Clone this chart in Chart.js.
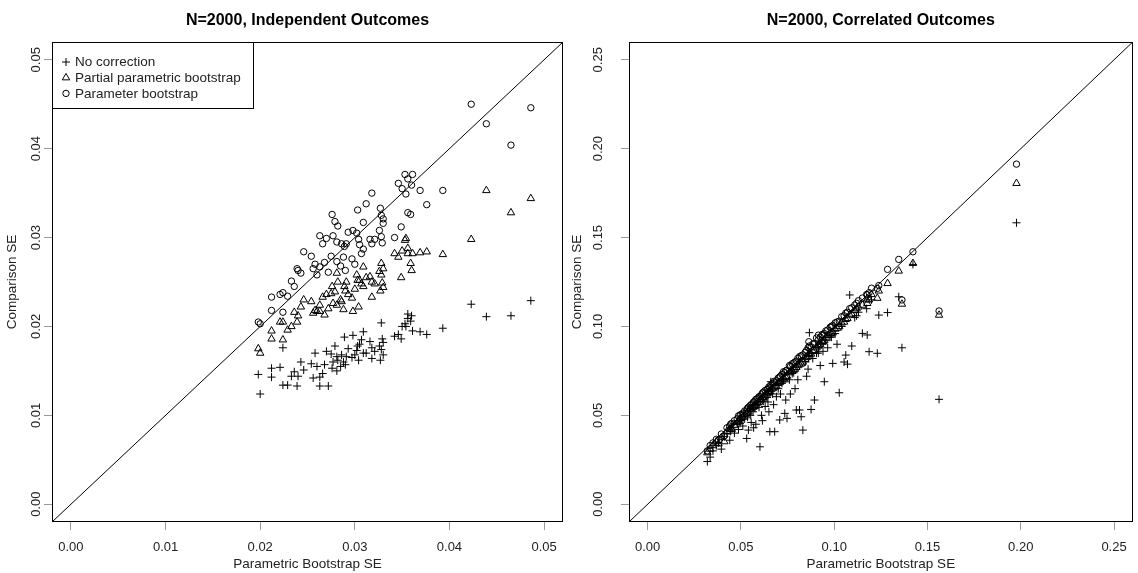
<!DOCTYPE html>
<html>
<head>
<meta charset="utf-8">
<script src="https://cdn.jsdelivr.net/npm/chart.js@4.4.1/dist/chart.umd.min.js"></script>
<style>
  html, body { margin: 0; padding: 0; background: #fff; }
  #wrap { position: relative; width: 1138px; height: 573px; overflow: hidden; background: #fff; }
  canvas { position: absolute; top: 0; }
</style>
</head>
<body>
<div id="wrap">
  <canvas id="left" width="569" height="573" style="left:0"></canvas>
  <canvas id="right" width="569" height="573" style="left:569px"></canvas>
</div>
<script>
// ---- data ----
const seriesNames = ["No correction", "Partial parametric bootstrap", "Parameter bootstrap"]

// left panel: N=2000, independent outcomes
const leftSE = [0.0198,0.0200,0.0212,0.0212,0.0221,0.0224,0.0224,0.0229,0.0233,0.0236,
  0.0239,0.0240,0.0243,0.0246,0.0254,0.0256,0.0258,0.0260,0.0263,0.0263,
  0.0266,0.0268,0.0270,0.0272,0.0275,0.0276,0.0277,0.0279,0.0281,0.0281,
  0.0282,0.0285,0.0286,0.0288,0.0289,0.0290,0.0291,0.0293,0.0297,0.0298,
  0.0300,0.0302,0.0303,0.0304,0.0305,0.0307,0.0309,0.0309,0.0312,0.0316,
  0.0318,0.0318,0.0321,0.0326,0.0327,0.0328,0.0328,0.0329,0.0330,0.0330,
  0.0346,0.0342,0.0349,0.0350,0.0353,0.0354,0.0356,0.0356,0.0359,0.0360,
  0.0361,0.0369,0.0376,0.0393,0.0423,0.0439,0.0465,0.0486]
const leftNoCorrection = [0.0146,0.0124,0.0153,0.0143,0.0154,0.0176,0.0134,0.0134,0.0144,0.0149,
  0.0133,0.0144,0.0160,0.0151,0.0158,0.0142,0.0170,0.0155,0.0143,0.0133,
  0.0147,0.0157,0.0172,0.0133,0.0169,0.0153,0.0160,0.0178,0.0166,0.0150,
  0.0162,0.0155,0.0168,0.0160,0.0188,0.0157,0.0166,0.0175,0.0165,0.0190,
  0.0168,0.0173,0.0178,0.0162,0.0180,0.0185,0.0194,0.0170,0.0170,0.0183,
  0.0164,0.0176,0.0172,0.0178,0.0162,0.0204,0.0174,0.0186,0.0182,0.0168,
  0.0191,0.0189,0.0186,0.0200,0.0203,0.0200,0.0209,0.0214,0.0206,0.0212,
  0.0195,0.0194,0.0191,0.0198,0.0225,0.0211,0.0212,0.0229]
const leftPartial = [0.0175,0.0170,0.0195,0.0186,0.0205,0.0205,0.0185,0.0196,0.0200,0.0216,
  0.0205,0.0212,0.0222,0.0230,0.0228,0.0215,0.0218,0.0217,0.0217,0.0224,
  0.0233,0.0213,0.0236,0.0220,0.0237,0.0245,0.0226,0.0239,0.0260,0.0224,
  0.0250,0.0230,0.0228,0.0219,0.0245,0.0240,0.0250,0.0236,0.0232,0.0217,
  0.0242,0.0258,0.0252,0.0222,0.0252,0.0248,0.0267,0.0245,0.0255,0.0256,
  0.0233,0.0250,0.0248,0.0262,0.0240,0.0271,0.0258,0.0249,0.0265,0.0244,
  0.0278,0.0282,0.0255,0.0285,0.0297,0.0299,0.0282,0.0288,0.0271,0.0263,
  0.0282,0.0283,0.0284,0.0281,0.0298,0.0353,0.0328,0.0344]
const leftParameter = [0.0205,0.0203,0.0218,0.0233,0.0236,0.0238,0.0216,0.0234,0.0251,0.0245,
  0.0265,0.0263,0.0260,0.0284,0.0279,0.0265,0.0270,0.0258,0.0267,0.0302,
  0.0293,0.0272,0.0299,0.0261,0.0279,0.0326,0.0302,0.0318,0.0295,0.0273,
  0.0313,0.0268,0.0293,0.0278,0.0290,0.0263,0.0293,0.0306,0.0276,0.0308,
  0.0270,0.0305,0.0331,0.0298,0.0292,0.0282,0.0317,0.0287,0.0338,0.0298,
  0.0350,0.0293,0.0298,0.0308,0.0333,0.0301,0.0325,0.0294,0.0321,0.0316,
  0.0361,0.0300,0.0312,0.0355,0.0371,0.0349,0.0366,0.0328,0.0326,0.0359,
  0.0371,0.0353,0.0337,0.0353,0.0450,0.0428,0.0404,0.0446]
const leftTicks = [0, 0.01, 0.02, 0.03, 0.04, 0.05]
const leftLimits = [-0.002, 0.052]

// right panel: N=2000, correlated outcomes
const rightSE = [0.0320,0.0335,0.0350,0.0368,0.0380,0.0395,0.0411,0.0425,0.0440,0.0451,
  0.0465,0.0480,0.0487,0.0500,0.0510,0.0520,0.0531,0.0540,0.0550,0.0555,
  0.0565,0.0575,0.0580,0.0590,0.0602,0.0610,0.0620,0.0630,0.0640,0.0650,
  0.0655,0.0660,0.0670,0.0681,0.0690,0.0700,0.0708,0.0720,0.0735,0.0740,
  0.0747,0.0760,0.0775,0.0790,0.0797,0.0814,0.0823,0.0832,0.0845,0.0860,
  0.0867,0.0876,0.0885,0.0894,0.0905,0.0915,0.0925,0.0935,0.0947,0.0955,
  0.0965,0.0978,0.0992,0.1005,0.1015,0.1027,0.1040,0.1053,0.1062,0.1071,
  0.1083,0.1094,0.1110,0.1130,0.1151,0.1177,0.1187,0.1200,0.1231,0.1239,
  0.1286,0.1346,0.1363,0.1422,0.1562,0.1977,
  0.0445,0.0495,0.0535,0.0568,0.0597,0.0615,0.0645,0.0675,0.0712,0.0728,
  0.0765,0.0783,0.0805,0.0852,0.0864,0.0915,0.0940,0.0985,0.1120,0.1174]
const rightNoCorrection = [0.0240,0.0265,0.0300,0.0330,0.0345,0.0310,0.0380,0.0395,0.0360,0.0430,
  0.0400,0.0450,0.0420,0.0470,0.0440,0.0480,0.0370,0.0417,0.0500,0.0460,
  0.0520,0.0540,0.0450,0.0560,0.0323,0.0500,0.0580,0.0550,0.0600,0.0520,
  0.0408,0.0689,0.0620,0.0408,0.0605,0.0650,0.0474,0.0680,0.0511,0.0586,
  0.0483,0.0700,0.0735,0.0650,0.0530,0.0530,0.0492,0.0417,0.0800,0.0760,
  0.0965,0.0533,0.0820,0.0586,0.0850,0.0880,0.0780,0.0900,0.0689,0.0920,
  0.0880,0.0940,0.0792,0.0960,0.0900,0.0627,0.1000,0.0800,0.0839,0.0788,
  0.1177,0.0890,0.1050,0.1080,0.0961,0.0952,0.0858,0.1150,0.0849,0.1064,
  0.1078,0.1167,0.0880,0.1349,0.0590,0.1583,
  0.0410,0.0455,0.0490,0.0430,0.0545,0.0470,0.0575,0.0560,0.0620,0.0700,
  0.0620,0.0740,0.0700,0.0720,0.0835,0.0850,0.0860,0.0940,0.1060,0.1100]
const rightPartial = [0.0290,0.0310,0.0330,0.0352,0.0340,0.0375,0.0352,0.0410,0.0420,0.0422,
  0.0445,0.0460,0.0470,0.0485,0.0490,0.0505,0.0510,0.0520,0.0535,0.0540,
  0.0545,0.0555,0.0565,0.0570,0.0585,0.0590,0.0600,0.0610,0.0620,0.0630,
  0.0635,0.0645,0.0650,0.0660,0.0665,0.0680,0.0685,0.0700,0.0700,0.0715,
  0.0720,0.0740,0.0750,0.0760,0.0770,0.0785,0.0790,0.0800,0.0815,0.0830,
  0.0850,0.0845,0.0860,0.0865,0.0880,0.0890,0.0900,0.0915,0.0920,0.0940,
  0.0950,0.0960,0.0965,0.0985,0.0990,0.1000,0.1020,0.1025,0.1040,0.1045,
  0.1065,0.1070,0.1090,0.1110,0.1120,0.1130,0.1150,0.1180,0.1159,0.1200,
  0.1242,0.1312,0.1126,0.1355,0.1064,0.1805,
  0.0430,0.0480,0.0515,0.0550,0.0575,0.0600,0.0625,0.0655,0.0690,0.0705,
  0.0745,0.0760,0.0780,0.0825,0.0842,0.0895,0.0915,0.0960,0.1100,0.1150]
const rightParameter = [0.0300,0.0330,0.0345,0.0365,0.0360,0.0395,0.0384,0.0430,0.0440,0.0455,
  0.0470,0.0480,0.0497,0.0505,0.0512,0.0525,0.0530,0.0545,0.0555,0.0560,
  0.0570,0.0580,0.0590,0.0595,0.0605,0.0615,0.0630,0.0640,0.0645,0.0660,
  0.0655,0.0670,0.0680,0.0685,0.0695,0.0710,0.0715,0.0730,0.0740,0.0750,
  0.0755,0.0780,0.0790,0.0800,0.0805,0.0830,0.0835,0.0840,0.0855,0.0880,
  0.0890,0.0885,0.0900,0.0905,0.0935,0.0925,0.0940,0.0955,0.0960,0.0975,
  0.0980,0.0995,0.1005,0.1020,0.1025,0.1030,0.1055,0.1060,0.1075,0.1080,
  0.1100,0.1105,0.1120,0.1145,0.1160,0.1177,0.1190,0.1215,0.1214,0.1230,
  0.1321,0.1377,0.1149,0.1420,0.1087,0.1913,
  0.0450,0.0500,0.0540,0.0575,0.0605,0.0625,0.0650,0.0690,0.0720,0.0745,
  0.0775,0.0795,0.0820,0.0865,0.0914,0.0951,0.0950,0.1000,0.1130,0.1180]
const rightTicks = [0, 0.05, 0.10, 0.15, 0.20, 0.25]
const rightLimits = [-0.01, 0.26]

// ---- styling ----
const FONT = "'Liberation Sans', Arial, Helvetica, sans-serif"
const INK = "#222"
const TICK_GREY = "#9a9a9a"
const pointStyles = ["cross", "triangle", "circle"]
const pointSizes = [4, 4.3, 3.2]

const toPoints = (xs, ys) => xs.map((x, i) => ({x: x, y: ys[i]}))

// R style box around the plot region
const boxPlugin = {
  id: "rbox",
  afterDraw(chart) {
    const a = chart.chartArea, ctx = chart.ctx
    ctx.save()
    ctx.strokeStyle = "#000"
    ctx.lineWidth = 1
    ctx.strokeRect(Math.round(a.left) + 0.5, Math.round(a.top) + 0.5,
      Math.round(a.right - a.left) - 1, Math.round(a.bottom - a.top) - 1)
    ctx.restore()
  }
}

function drawSymbol(ctx, style, x, y, r) {
  ctx.beginPath()
  if (style === "cross") {
    ctx.moveTo(x - r, y); ctx.lineTo(x + r, y)
    ctx.moveTo(x, y - r); ctx.lineTo(x, y + r)
  } else if (style === "triangle") {
    for (let k = 0; k < 3; k++) {
      const ang = k * 2 * Math.PI / 3
      const px = x + Math.sin(ang) * r, py = y - Math.cos(ang) * r
      if (k === 0) ctx.moveTo(px, py); else ctx.lineTo(px, py)
    }
    ctx.closePath()
  } else {
    ctx.arc(x, y, r, 0, Math.PI * 2)
  }
  ctx.stroke()
}

// legend in the top-left corner of the plot, boxed like R's legend()
const legendPlugin = {
  id: "rlegend",
  afterDraw(chart) {
    const a = chart.chartArea, ctx = chart.ctx
    const x0 = Math.round(a.left), y0 = Math.round(a.top)
    const w = 201, h = 66
    ctx.save()
    ctx.fillStyle = "#fff"
    ctx.fillRect(x0, y0, w, h)
    ctx.strokeStyle = "#000"
    ctx.lineWidth = 1
    ctx.strokeRect(x0 + 0.5, y0 + 0.5, w, h)
    ctx.font = "13.5px " + FONT
    ctx.textBaseline = "middle"
    ctx.textAlign = "left"
    seriesNames.forEach((name, i) => {
      const cy = y0 + 20 + i * 15.7
      ctx.strokeStyle = "#000"
      drawSymbol(ctx, pointStyles[i], x0 + 14, cy, pointSizes[i])
      ctx.fillStyle = INK
      ctx.fillText(name, x0 + 23, cy + 0.5)
    })
    ctx.restore()
  }
}

function makePanel(id, p) {
  const series = [p.none, p.partial, p.param]
  const datasets = series.map((ys, i) => ({
    label: seriesNames[i],
    data: toPoints(p.se, ys),
    pointStyle: pointStyles[i],
    pointRadius: pointSizes[i],
    pointHoverRadius: pointSizes[i],
    borderColor: "#000",
    backgroundColor: "rgba(0,0,0,0)",
    borderWidth: 1
  }))
  // identity line, corner to corner of the plot
  datasets.push({
    label: "y = x",
    data: [{x: p.lim[0], y: p.lim[0]}, {x: p.lim[1], y: p.lim[1]}],
    showLine: true,
    borderColor: "#000",
    borderWidth: 1,
    pointRadius: 0
  })

  const tickFont = {family: FONT, size: 13}
  const labelFont = {family: FONT, size: 13.5}

  return new Chart(document.getElementById(id), {
    type: "scatter",
    data: {datasets: datasets},
    plugins: p.legend ? [boxPlugin, legendPlugin] : [boxPlugin],
    options: {
      responsive: false,
      animation: false,
      devicePixelRatio: 1,
      layout: {padding: {left: 0, right: p.padRight, top: 0, bottom: 0}},
      plugins: {
        legend: {display: false},
        tooltip: {enabled: false},
        title: {
          display: true,
          text: p.title,
          fullSize: false,
          color: "#000",
          font: {family: FONT, size: 16, weight: "bold"},
          padding: {top: 10.5, bottom: 12.3}
        }
      },
      scales: {
        x: {
          type: "linear",
          min: p.lim[0],
          max: p.lim[1],
          afterFit: s => { s.height = 51 },
          afterBuildTicks: s => { s.ticks = p.ticks.map(v => ({value: v})) },
          ticks: {callback: v => v.toFixed(2), color: INK, font: tickFont, padding: 9.5, autoSkip: false, maxRotation: 0},
          grid: {drawOnChartArea: false, tickLength: 8, color: TICK_GREY},
          border: {display: false},
          title: {display: true, text: "Parametric Bootstrap SE", color: INK, font: labelFont, padding: {top: 0, bottom: 0.5}}
        },
        y: {
          type: "linear",
          min: p.lim[0],
          max: p.lim[1],
          afterFit: s => { s.width = p.yWidth },
          afterBuildTicks: s => { s.ticks = p.ticks.map(v => ({value: v})) },
          ticks: {callback: v => v.toFixed(2), color: INK, font: tickFont, padding: p.yTickPad,
            autoSkip: false, minRotation: 90, maxRotation: 90, crossAlign: "center"},
          grid: {drawOnChartArea: false, tickLength: 8, color: TICK_GREY},
          border: {display: false},
          title: {display: true, text: "Comparison SE", color: INK, font: labelFont, padding: {top: p.yTitlePad, bottom: 0}}
        }
      }
    }
  })
}

makePanel("left", {
  title: "N=2000, Independent Outcomes",
  se: leftSE, none: leftNoCorrection, partial: leftPartial, param: leftParameter,
  ticks: leftTicks, lim: leftLimits,
  yWidth: 52, padRight: 6, yTickPad: -5, yTitlePad: 4, legend: true
})

makePanel("right", {
  title: "N=2000, Correlated Outcomes",
  se: rightSE, none: rightNoCorrection, partial: rightPartial, param: rightParameter,
  ticks: rightTicks, lim: rightLimits,
  yWidth: 60, padRight: 2, yTickPad: 10, yTitlePad: 0, legend: false
})
</script>
</body>
</html>
